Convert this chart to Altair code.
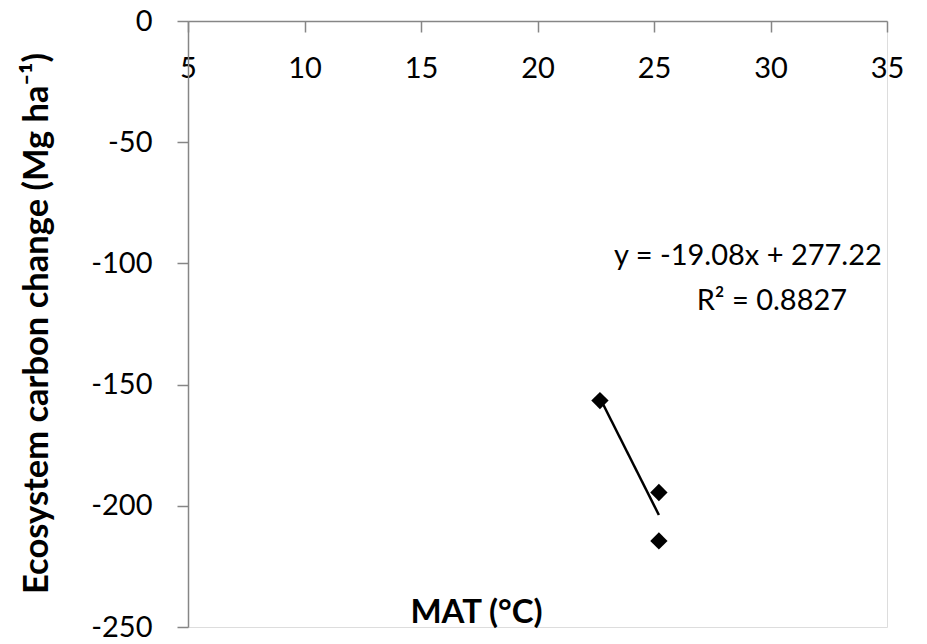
import altair as alt
import pandas as pd

# Mean annual temperature (°C) and ecosystem carbon change (Mg ha-1)
mat = [22.68, 25.21, 25.21]
carbon_change = [-156.6, -194.5, -214.5]

# Linear fit reported for the sites
slope = -19.08
intercept = 277.22
fit_lines = ["y = -19.08x + 277.22", "R² = 0.8827"]
fit_label_x = [29.03, 30.06]
fit_label_y = [-100.7, -119.2]

x_ticks = [5, 10, 15, 20, 25, 30, 35]
y_ticks = [0, -50, -100, -150, -200, -250]

FONT = "Lato"
AXIS_GREY = "#868686"

points = pd.DataFrame({"mat": mat, "change": carbon_change})
trend = pd.DataFrame({"mat": [min(mat), max(mat)]})
labels = pd.DataFrame({"mat": fit_label_x, "change": fit_label_y, "text": fit_lines})

x_scale = alt.Scale(domain=[5, 35], nice=False, zero=False)
y_scale = alt.Scale(domain=[-250, 0], nice=False, zero=False)

x_axis = alt.Axis(
    values=x_ticks, orient="bottom", offset=-606, grid=False,
    domainColor=AXIS_GREY, domainWidth=1.5, tickColor=AXIS_GREY, tickWidth=1.5,
    tickSize=11, labelFont=FONT, labelFontSize=29, labelColor="black",
    labelPadding=22, labelFlush=False, labelExpr="datum.value",
    title="MAT (°C)", titleFont=FONT, titleFontSize=33, titleFontWeight="bold",
    titleColor="black", titleX=288, titleY=591, titleAlign="center",
    titleBaseline="middle",
)
y_axis = alt.Axis(
    values=y_ticks, orient="left", grid=False,
    domainColor=AXIS_GREY, domainWidth=1.5, tickColor=AXIS_GREY, tickWidth=1.5,
    tickSize=11, labelFont=FONT, labelFontSize=29, labelColor="black",
    labelPadding=25, labelFlush=False, labelExpr="datum.value",
    title="Ecosystem carbon change (Mg ha⁻¹)", titleFont=FONT, titleFontSize=34.5,
    titleFontWeight="bold", titleColor="black", titleX=-168, titleY=302,
    titleAngle=270, titleAlign="center", titleBaseline="top",
)

pts = alt.Chart(points).mark_point(
    shape="diamond", filled=True, color="black", size=300, opacity=1
).encode(
    x=alt.X("mat:Q", scale=x_scale, axis=x_axis),
    y=alt.Y("change:Q", scale=y_scale, axis=y_axis),
)

line = alt.Chart(trend).transform_calculate(
    change=f"{slope} * datum.mat + {intercept}"
).mark_line(color="black", strokeWidth=2.5).encode(
    x=alt.X("mat:Q", scale=x_scale),
    y=alt.Y("change:Q", scale=y_scale),
)

text = alt.Chart(labels).mark_text(
    font=FONT, fontSize=29, color="black", align="center", baseline="alphabetic"
).encode(
    x=alt.X("mat:Q", scale=x_scale),
    y=alt.Y("change:Q", scale=y_scale),
    text="text:N",
)

chart = alt.layer(line, pts, text).properties(
    width=699, height=606,
    autosize=alt.AutoSizeParams(type="none"),
    padding={"left": 188, "top": 21, "right": 40, "bottom": 17},
).configure_view(stroke=None).configure(background="white")

chart.save("out.html", embed_options={"renderer": "svg", "actions": False})
